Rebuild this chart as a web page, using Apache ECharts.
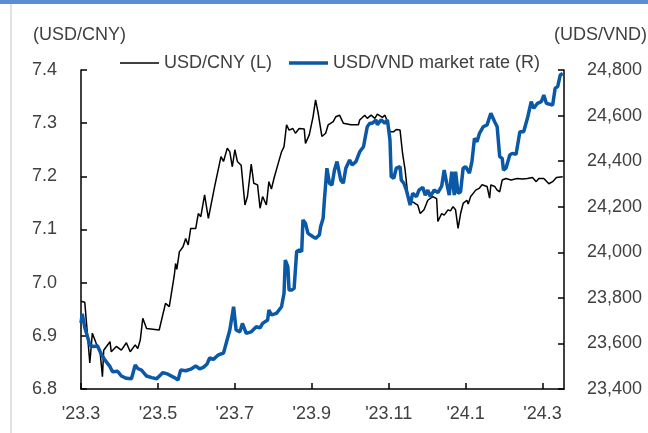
<!DOCTYPE html>
<html>
<head>
<meta charset="utf-8">
<script src="https://cdn.jsdelivr.net/npm/echarts@6/dist/echarts.min.js"></script>
<style>
html, body { margin: 0; padding: 0; background: #fff; }
#chart { width: 648px; height: 433px; }
</style>
</head>
<body>
<div id="chart"></div>
<script>
// USD/CNY (left axis)
const cnyDates = [
	'2023-03-01', '2023-03-04', '2023-03-08', '2023-03-10', '2023-03-13', '2023-03-16', '2023-03-18', '2023-03-19', '2023-03-24', '2023-03-25', '2023-03-29',
	'2023-04-02', '2023-04-06', '2023-04-09', '2023-04-13', '2023-04-15', '2023-04-17', '2023-04-19', '2023-04-22',
	'2023-05-02', '2023-05-07', '2023-05-10', '2023-05-14', '2023-05-15', '2023-05-16', '2023-05-18', '2023-05-21', '2023-05-23', '2023-05-25', '2023-05-27', '2023-05-31',
	'2023-06-02', '2023-06-04', '2023-06-07', '2023-06-10', '2023-06-15', '2023-06-20', '2023-06-22', '2023-06-25', '2023-06-27', '2023-06-29',
	'2023-07-01', '2023-07-03', '2023-07-06', '2023-07-09', '2023-07-11', '2023-07-14', '2023-07-16', '2023-07-19', '2023-07-21', '2023-07-23', '2023-07-26', '2023-07-28', '2023-07-30',
	'2023-08-01', '2023-08-04', '2023-08-07', '2023-08-09', '2023-08-11', '2023-08-13', '2023-08-16', '2023-08-18', '2023-08-21', '2023-08-25', '2023-08-26', '2023-08-29',
	'2023-09-01', '2023-09-03', '2023-09-05', '2023-09-08', '2023-09-11', '2023-09-13', '2023-09-17', '2023-09-19', '2023-09-22', '2023-09-25',
	'2023-10-01', '2023-10-07', '2023-10-08', '2023-10-12', '2023-10-14', '2023-10-17', '2023-10-20', '2023-10-22', '2023-10-26', '2023-10-28', '2023-10-30',
	'2023-11-01', '2023-11-04', '2023-11-06', '2023-11-09', '2023-11-11', '2023-11-13', '2023-11-15', '2023-11-17', '2023-11-19', '2023-11-23', '2023-11-25', '2023-11-28',
	'2023-12-01', '2023-12-05', '2023-12-08', '2023-12-09', '2023-12-12', '2023-12-14', '2023-12-17', '2023-12-19', '2023-12-21', '2023-12-23', '2023-12-25', '2023-12-27', '2023-12-29',
	'2024-01-01', '2024-01-02', '2024-01-04', '2024-01-06', '2024-01-08', '2024-01-11', '2024-01-13', '2024-01-17', '2024-01-19', '2024-01-20', '2024-01-23', '2024-01-25', '2024-01-27', '2024-01-29',
	'2024-02-01', '2024-02-05', '2024-02-10', '2024-02-14', '2024-02-18', '2024-02-22', '2024-02-25', '2024-02-27',
	'2024-03-02', '2024-03-06', '2024-03-09', '2024-03-12', '2024-03-17'
];
const cnyRates = [
	6.965, 6.963, 6.849, 6.905, 6.886, 6.873, 6.823, 6.873, 6.889, 6.870, 6.880,
	6.873, 6.887, 6.870, 6.883, 6.876, 6.892, 6.933, 6.914,
	6.911, 6.961, 6.955, 7.014, 7.036, 7.025, 7.058, 7.068, 7.083, 7.071, 7.102, 7.102,
	7.130, 7.124, 7.165, 7.121, 7.181, 7.237, 7.228, 7.253, 7.246, 7.218,
	7.250, 7.228, 7.221, 7.146, 7.162, 7.223, 7.187, 7.184, 7.140, 7.162, 7.146, 7.190, 7.176,
	7.196, 7.221, 7.246, 7.256, 7.297, 7.287, 7.290, 7.281, 7.290, 7.289, 7.262, 7.278,
	7.312, 7.344, 7.320, 7.275, 7.281, 7.297, 7.303, 7.312, 7.315, 7.300,
	7.297, 7.297, 7.306, 7.315, 7.309, 7.315, 7.309, 7.317, 7.311, 7.315, 7.303,
	7.284, 7.284, 7.288, 7.287, 7.243, 7.212, 7.168, 7.149, 7.152, 7.146, 7.130, 7.137,
	7.155, 7.162, 7.158, 7.115, 7.130, 7.127, 7.137, 7.135, 7.143, 7.137, 7.102, 7.130, 7.149,
	7.155, 7.148, 7.162, 7.168, 7.174, 7.178, 7.184, 7.181, 7.159, 7.184, 7.181, 7.174, 7.171, 7.193,
	7.196, 7.193, 7.196, 7.195, 7.196, 7.198, 7.190, 7.196,
	7.196, 7.186, 7.190, 7.198, 7.199
];

// USD/VND market rate (right axis)
const vndDates = [
	'2023-03-01', '2023-03-02', '2023-03-04', '2023-03-05', '2023-03-08', '2023-03-11', '2023-03-14', '2023-03-17', '2023-03-20', '2023-03-24', '2023-03-26', '2023-03-30',
	'2023-04-02', '2023-04-06', '2023-04-10', '2023-04-13', '2023-04-15', '2023-04-18', '2023-04-22', '2023-04-26', '2023-04-30',
	'2023-05-05', '2023-05-09', '2023-05-14', '2023-05-17', '2023-05-19', '2023-05-23', '2023-05-27', '2023-05-31',
	'2023-06-03', '2023-06-06', '2023-06-09', '2023-06-11', '2023-06-14', '2023-06-18', '2023-06-22', '2023-06-23', '2023-06-27', '2023-06-30',
	'2023-07-02', '2023-07-05', '2023-07-07', '2023-07-10', '2023-07-14', '2023-07-18', '2023-07-21', '2023-07-23', '2023-07-27', '2023-07-28', '2023-07-30',
	'2023-08-03', '2023-08-07', '2023-08-09', '2023-08-10', '2023-08-12', '2023-08-13', '2023-08-15', '2023-08-17', '2023-08-19', '2023-08-21', '2023-08-23', '2023-08-24', '2023-08-26', '2023-08-28',
	'2023-09-01', '2023-09-03', '2023-09-06', '2023-09-07', '2023-09-09', '2023-09-10', '2023-09-12', '2023-09-14', '2023-09-16', '2023-09-18', '2023-09-20', '2023-09-23', '2023-09-25', '2023-09-27', '2023-09-30',
	'2023-10-02', '2023-10-05', '2023-10-08', '2023-10-11', '2023-10-12', '2023-10-14', '2023-10-16', '2023-10-18', '2023-10-21', '2023-10-22', '2023-10-25', '2023-10-28', '2023-10-30',
	'2023-11-01', '2023-11-02', '2023-11-04', '2023-11-06', '2023-11-09', '2023-11-10', '2023-11-12', '2023-11-14', '2023-11-17', '2023-11-19', '2023-11-22', '2023-11-24', '2023-11-27', '2023-11-29',
	'2023-12-01', '2023-12-03', '2023-12-06', '2023-12-09', '2023-12-12', '2023-12-14', '2023-12-16', '2023-12-18', '2023-12-20', '2023-12-22', '2023-12-23', '2023-12-25', '2023-12-27', '2023-12-29', '2023-12-31',
	'2024-01-03', '2024-01-05', '2024-01-07', '2024-01-09', '2024-01-11', '2024-01-14', '2024-01-17', '2024-01-20', '2024-01-23', '2024-01-25', '2024-01-27', '2024-01-29', '2024-01-30',
	'2024-02-01', '2024-02-04', '2024-02-06', '2024-02-09', '2024-02-12', '2024-02-15', '2024-02-18', '2024-02-21', '2024-02-23', '2024-02-26', '2024-02-29',
	'2024-03-02', '2024-03-04', '2024-03-09', '2024-03-11', '2024-03-13', '2024-03-15', '2024-03-17'
];
const vndRates = [
	23690, 23730, 23670, 23651, 23593, 23586, 23590, 23554, 23527, 23498, 23476, 23478,
	23457, 23447, 23445, 23505, 23490, 23483, 23457, 23450, 23445,
	23472, 23465, 23450, 23440, 23483, 23480, 23487, 23501,
	23488, 23495, 23510, 23536, 23530, 23550, 23558, 23578, 23659, 23761,
	23659, 23651, 23688, 23644, 23651, 23673, 23668, 23688, 23703, 23747, 23725,
	23732, 23761, 23820, 23966, 23937, 23834, 23834, 23842, 24003, 24010, 24003, 24142, 24127, 24083,
	24068, 24061, 24076, 24112, 24149, 24229, 24369, 24303, 24295, 24361, 24398, 24317, 24303, 24369, 24405,
	24383, 24398, 24441, 24463, 24493, 24551, 24566, 24566, 24581, 24560, 24581, 24566, 24581,
	24493, 24332, 24325, 24369, 24376, 24317, 24303, 24273, 24207, 24259, 24244, 24273, 24285, 24251,
	24273, 24244, 24273, 24262, 24290, 24361, 24303, 24251, 24354, 24251, 24354, 24259, 24266, 24369, 24376,
	24347, 24398, 24500, 24485, 24522, 24551, 24559, 24610, 24573, 24551, 24420, 24412, 24361,
	24369, 24427, 24434, 24430, 24529, 24529, 24588, 24661, 24632, 24654, 24661,
	24690, 24654, 24646, 24720, 24727, 24778, 24785
];

const DAY = 86400000;
const font = 'Liberation Sans';
const textColor = '#404040';
const blue = '#0a58a6';

function ts(s) {
	const p = s.split('-');
	return Date.UTC(+p[0], +p[1] - 1, +p[2]);
}
function pairs(dates, values) {
	return dates.map((d, i) => [ts(d), values[i]]);
}

const axisLine = { show: true, lineStyle: { color: '#000', width: 1.5 } };
const axisTick = { show: true, inside: true, length: 6, lineStyle: { color: '#000', width: 1.5 } };
const labelStyle = { color: textColor, fontSize: 18, fontFamily: font };

// one legend per series so each key sits where it does in the original
function legendAt(left, name, thickness) {
	return {
		left: left,
		top: 54,
		padding: 0,
		itemWidth: 39,
		itemHeight: 14,
		textStyle: labelStyle,
		data: [{ name: name, icon: 'path://M0,0h39v' + thickness + 'h-39z' }]
	};
}

const chart = echarts.init(document.getElementById('chart'));
chart.setOption({
	animation: false,
	grid: { left: 81, right: 84, top: 70, bottom: 44, outerBoundsMode: 'none' },
	legend: [
		legendAt(120, 'USD/CNY (L)', 1.5),
		legendAt(289, 'USD/VND market rate (R)', 3.5)
	],
	graphic: [
		{ type: 'rect', shape: { x: 0, y: 0, width: 648, height: 4 }, style: { fill: '#5b8ed2' }, silent: true },
		{ type: 'line', shape: { x1: 11, y1: 4, x2: 11, y2: 433 }, style: { stroke: '#c4c4c4', lineWidth: 1 }, silent: true },
		{ type: 'text', style: { text: '(USD/CNY)', x: 33, y: 35, font: '18px "Liberation Sans"', fill: textColor, textVerticalAlign: 'middle' } },
		{ type: 'text', style: { text: '(UDS/VND)', x: 554, y: 35, font: '18px "Liberation Sans"', fill: textColor, textVerticalAlign: 'middle' } }
	],
	// dates on a plain value axis, a tick about every two months from 1 Mar 2023
	xAxis: {
		type: 'value',
		min: ts('2023-03-01'),
		max: ts('2024-03-18'),
		interval: 61 * DAY,
		axisLine: axisLine,
		axisTick: axisTick,
		axisLabel: Object.assign({}, labelStyle, {
			margin: 16,
			showMaxLabel: false,
			formatter: v => {
				const d = new Date(v + 3 * DAY);
				return "'" + String(d.getUTCFullYear()).slice(2) + '.' + (d.getUTCMonth() + 1);
			}
		}),
		splitLine: { show: false }
	},
	yAxis: [
		{
			type: 'value',
			min: 6.8,
			max: 7.4,
			interval: 0.1,
			axisLine: axisLine,
			axisTick: axisTick,
			splitLine: { show: false },
			axisLabel: Object.assign({}, labelStyle, { margin: 24, formatter: v => v.toFixed(1) })
		},
		{
			type: 'value',
			position: 'right',
			min: 23400,
			max: 24800,
			interval: 200,
			axisLine: axisLine,
			axisTick: axisTick,
			splitLine: { show: false },
			axisLabel: Object.assign({}, labelStyle, { margin: 23, formatter: v => Number(v).toLocaleString('en-US') })
		}
	],
	series: [
		{
			name: 'USD/CNY (L)',
			type: 'line',
			yAxisIndex: 0,
			symbol: 'none',
			lineStyle: { color: '#000', width: 1.5 },
			itemStyle: { color: '#000' },
			data: pairs(cnyDates, cnyRates)
		},
		{
			name: 'USD/VND market rate (R)',
			type: 'line',
			yAxisIndex: 1,
			symbol: 'none',
			lineStyle: { color: blue, width: 3.5 },
			itemStyle: { color: blue },
			data: pairs(vndDates, vndRates)
		}
	]
});
</script>
</body>
</html>
